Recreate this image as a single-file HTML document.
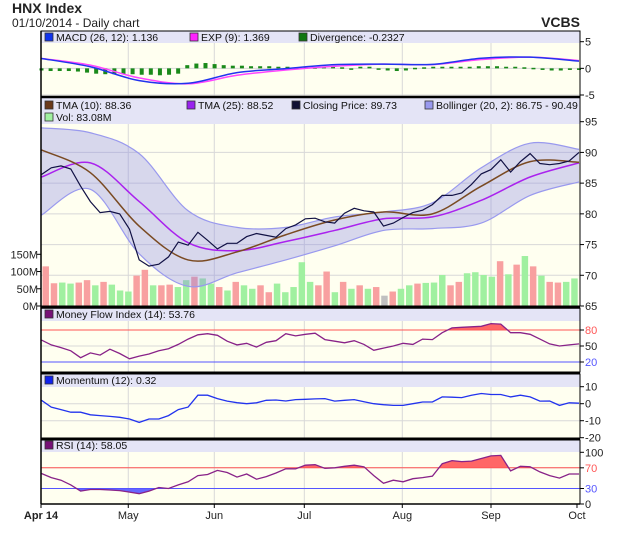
<!DOCTYPE html>
<html><head><meta charset="utf-8">
<style>
body{margin:0;background:#fff;width:620px;height:535px;overflow:hidden;font-family:"Liberation Sans",sans-serif;}
svg{display:block}
</style></head>
<body>
<svg id="c" width="620" height="535" xmlns="http://www.w3.org/2000/svg" font-family="Liberation Sans, sans-serif">
<text x="12" y="13" font-size="14" font-weight="bold" fill="#222">HNX Index</text>
<text x="12" y="27" font-size="12" fill="#222">01/10/2014 - Daily chart</text>
<text x="580" y="27" font-size="14" font-weight="bold" fill="#222" text-anchor="end">VCBS</text>
</svg>
<script>
// ---- data ----
const months = ["Apr 14","May","Jun","Jul","Aug","Sep","Oct"];
const monthPos = [0, 0.1619, 0.3215, 0.4885, 0.6703, 0.8349, 0.9944];
const closePrice = [86.4,87.5,87.8,87.3,84.5,82,80.2,80.4,80,77.5,72.5,71.5,71.8,73,75.4,74.9,77,75.7,74.3,75.2,75.2,76.3,76.8,76.5,76.2,77.6,78.2,79.2,79.3,78.7,78.5,80.1,80.9,80.5,80.3,78,78.5,79.4,80.2,80.6,81.5,83,83,83.4,84.8,86.5,87.2,88.8,86.8,88.5,89.8,88.2,88,88.2,88.6,90];
const tma10 = [90.4,86.7,78,72.5,73.8,76.6,79,80.3,80,84.5,88.5,88.4];
const tma25 = [86,88.3,82,75.3,74,75.5,77.3,79.2,79.5,82.2,86,88.3];
const bollUpper = [94,93.2,89.8,80.5,77.8,77.8,79.5,80.3,81.8,87.5,91.5,90.5];
const bollLower = [79.8,84,73.5,68.2,70.4,72.5,74.8,77.3,77.6,78.5,83,85.2];
const volume = [115,66,68,65,68,75,60,70,62,45,42,88,105,60,60,62,55,75,85,80,65,55,45,70,60,50,60,40,65,40,55,127,70,60,100,40,70,50,60,50,55,30,42,50,60,65,67,68,90,60,70,95,98,90,85,130,92,120,145,115,88,70,68,70,80];
const volumeDir = ["d","d","u","u","d","d","u","d","u","u","u","d","d","u","d","d","u","u","d","u","u","d","u","d","u","u","d","d","u","u","u","u","u","d","d","u","d","u","d","u","d","n","d","u","u","d","u","u","u","d","d","u","u","u","u","d","u","d","u","d","u","d","d","u","u"];
const macd = [1.85,0.3,-2.3,-2.8,-0.8,-0.05,0.7,0.8,0.75,1.9,2.1,1.35];
const macdSignal = [1.85,0.6,-1.8,-2.9,-1.3,-0.3,0.4,0.8,0.7,1.65,2.1,1.45];
const divergence = [-0.4,-0.5,-0.5,-0.5,-0.6,-0.8,-1.0,-1.1,-1.1,-1.1,-1.1,-1.2,-1.2,-1.3,-1.2,-1.0,0.6,0.9,1.0,0.8,0.6,0.5,0.5,0.4,0.4,0.4,0.3,0.3,0.2,0.2,0.2,0.3,0.3,0.2,0.0,0.3,0.3,0.0,-0.4,-0.5,-0.4,0.1,0.2,0.3,0.3,0.3,0.3,0.3,0.4,0.4,0.4,0.3,0.3,0.2,0.1,-0.3,-0.4,-0.4,-0.3,-0.3];
const mfi = [61,52,47,41,28,37,33,44,36,26,31,35,41,45,53,63,71,73,70,59,52,55,48,57,60,73,69,72,74,62,59,56,60,53,42,46,50,55,53,63,62,75,84,85,86,87,92,91,75,75,72,63,54,50,52,54];
const momentum = [2,-2,-3.5,-5,-5,-6.5,-7,-7.5,-8,-9,-11,-9,-9,-7,-3.5,-2,5,5,3,1.5,0.6,0,0.5,2,2.2,1.6,2.4,2.6,2.8,3,1.5,2,2.4,1.2,0,-0.6,-1,-1,0,1,1,4,3.8,3.6,5,6,5.4,5.4,4,5,4,1.5,1.6,-1,0.5,0.32];
const rsi = [59,51,46,37,25,28,28,27,26,23,20,25,32,30,37,43,55,57,65,61,52,58,48,53,60,68,68,75,76,69,70,73,75,72,55,40,46,43,49,51,54,78,84,82,83,88,93,94,64,73,72,62,55,50,58,58];
const priceTicks = [95,90,85,80,75,70,65];
const volTicks = [150,100,50,0];
const macdTicks = [5,0,-5];
const mfiTicks = [80,50,20];
const momTicks = [10,0,-10,-20];
const rsiTicks = [100,70,30,0];

// ---- layout ----
const NS="http://www.w3.org/2000/svg";
const svg=document.getElementById('c');
const L=41,R=580;
function el(tag,attrs,parent){const e=document.createElementNS(NS,tag);for(const k in attrs)e.setAttribute(k,attrs[k]);(parent||svg).appendChild(e);return e;}
function xIdx(i,n){return 41.5+(579-41.5)*i/(n-1);}
function lin(v0,y0,v1,y1){return v=>y0+(v-v0)*(y1-y0)/(v1-v0);}
const yPrice=lin(95,121.7,65,306);
const yVol=lin(0,306,150,254.3);
const yMacd=lin(5,41.7,-5,95);
const yMfi=lin(80,330,20,362);
const yMom=lin(10,386.7,-20,437.7);
const yRsi=lin(100,452.3,0,504);
function smooth(pts){let d="M"+pts[0][0]+","+pts[0][1];for(let i=0;i<pts.length-1;i++){const p0=pts[i-1]||pts[i],p1=pts[i],p2=pts[i+1],p3=pts[i+2]||p2;d+=" C"+(p1[0]+(p2[0]-p0[0])/6)+","+(p1[1]+(p2[1]-p0[1])/6)+" "+(p2[0]-(p3[0]-p1[0])/6)+","+(p2[1]-(p3[1]-p1[1])/6)+" "+p2[0]+","+p2[1];}return d;}
function pts(arr,ys){return arr.map((v,i)=>[xIdx(i,arr.length),ys(v)]);}
function poly(p){return "M"+p.map(q=>q[0].toFixed(1)+","+q[1].toFixed(1)).join(" L");}

function panel(name,top,legendH,bottom,ticks,ys,tickColors){
  const g=el('g',{});
  
  
  el('rect',{x:L,y:top,width:R-L,height:bottom-top,fill:'#fffff0'},g);
  el('rect',{x:L,y:top,width:R-L,height:legendH,fill:'#e4e4f6'},g);
  monthPos.forEach(p=>{const x=L+p*(R-L);if(p>0&&p<0.99)el('line',{x1:x,x2:x,y1:top+legendH,y2:bottom,stroke:'#d8d8d8','stroke-width':1},g);});
  ticks.forEach((t,k)=>{const y=ys(t);if(y>top+legendH+1&&y<bottom-1)el('line',{x1:L,x2:R,y1:y,y2:y,stroke:'#d8d8d8'},g);
    el('line',{x1:R,x2:R+4,y1:y,y2:y,stroke:'#000'},g);
    const tx=el('text',{x:R+5,y:y+4,'font-size':11,fill:(tickColors&&tickColors[k])||'#222'},g);tx.textContent=t;
    
    });
  return g;
}
function frame(top,bottom){el('rect',{x:L,y:top,width:R-L,height:bottom-top,fill:'none',stroke:'#000','stroke-width':1});}
function legend(items,y){items.forEach(it=>{
  const g=el('g',{});
  
  
  el('rect',{x:it[0],y:y-8,width:8,height:8,fill:it[1],stroke:'#333','stroke-width':0.8},g);
  const t=el('text',{x:it[0]+11,y:y,'font-size':10.5,fill:'#111'},g);t.textContent=it[2];});}

// MACD panel
panel('macd-panel',31,12,97,macdTicks,yMacd);
divergence.forEach((v,i)=>{const x=xIdx(i,divergence.length);const y0=yMacd(0),y1=yMacd(v);
  const b=el('rect',{x:x-2,y:Math.min(y0,y1),width:4,height:Math.max(1.5,Math.abs(y1-y0)),fill:'#1a8a1a'});
  
  });
let p=el('path',{d:smooth(pts(macdSignal,yMacd)),fill:'none',stroke:'#ff44ff','stroke-width':1.5});

p=el('path',{d:smooth(pts(macd,yMacd)),fill:'none',stroke:'#2233ee','stroke-width':1.5});

frame(31,97);
legend([[45,'#1133ee','MACD (26, 12): 1.136'],[190,'#ff22ff','EXP (9): 1.369'],[299,'#117711','Divergence: -0.2327']],41);

// Main panel
panel('price-panel',97,27,306,priceTicks,yPrice);
volTicks.forEach(t=>{const y=yVol(t);el('line',{x1:L-4,x2:L,y1:y,y2:y,stroke:'#000'});
  const tx=el('text',{x:L-3,y:y+4,'font-size':11,'text-anchor':'end',fill:'#222'});tx.textContent=t+'M';
  
  });
volume.forEach((v,i)=>{const x=L+1+(R-L-2)*i/volume.length;const w=(R-L-2)/volume.length;
  const c=volumeDir[i]==='u'?'#a0f0a0':volumeDir[i]==='d'?'#f8a0a0':'#c0c0c0';
  const b=el('rect',{x:x+0.5,y:yVol(v),width:w-1.8,height:306-yVol(v),fill:c});
  
  });
const up=pts(bollUpper,yPrice),lo=pts(bollLower,yPrice);
p=el('path',{d:smooth(up)+" L"+smooth(lo.slice().reverse()).slice(1)+" Z",fill:'rgba(140,140,230,0.35)',stroke:'none'});

el('path',{d:smooth(up),fill:'none',stroke:'#9999ee','stroke-width':1.2});
el('path',{d:smooth(lo),fill:'none',stroke:'#9999ee','stroke-width':1.2});
p=el('path',{d:smooth(pts(tma25,yPrice)),fill:'none',stroke:'#aa22ee','stroke-width':1.5});

p=el('path',{d:smooth(pts(tma10,yPrice)),fill:'none',stroke:'#7a4a22','stroke-width':1.5});

p=el('path',{d:poly(pts(closePrice,yPrice)),fill:'none',stroke:'#111144','stroke-width':1.2});

frame(97,306);
legend([[45,'#6b3a1a','TMA (10): 88.36'],[187,'#9922ee','TMA (25): 88.52'],[292,'#111133','Closing Price: 89.73'],[425,'#9999ee','Bollinger (20, 2): 86.75 - 90.49']],109);
legend([[45,'#a0f0a0','Vol: 83.08M']],121);

function osc(name,arr,ys,top,bottom,hi,lo,stroke){
  const pp=pts(arr,ys);
  if(hi!==null){const cid=name+'-hi';const cp=el('clipPath',{id:cid});el('rect',{x:L,y:top,width:R-L,height:ys(hi)-top},cp);
    el('path',{d:poly(pp)+" L"+pp[pp.length-1][0]+","+ys(hi)+" L"+pp[0][0]+","+ys(hi)+" Z",fill:'#ff6666','clip-path':'url(#'+cid+')'});}
  if(lo!==null){const cid=name+'-lo';const cp=el('clipPath',{id:cid});el('rect',{x:L,y:ys(lo),width:R-L,height:bottom-ys(lo)},cp);
    el('path',{d:poly(pp)+" L"+pp[pp.length-1][0]+","+ys(lo)+" L"+pp[0][0]+","+ys(lo)+" Z",fill:'#6666ff','clip-path':'url(#'+cid+')'});}
  if(hi!==null)el('line',{x1:L,x2:R,y1:ys(hi),y2:ys(hi),stroke:'#ff5555'});
  if(lo!==null)el('line',{x1:L,x2:R,y1:ys(lo),y2:ys(lo),stroke:'#5555ff'});
  const l=el('path',{d:poly(pp),fill:'none',stroke:stroke,'stroke-width':1.3});
  
  
}
// MFI
panel('mfi-panel',308,13,372,mfiTicks,yMfi,['#ff5555','#222','#5555ff']);
osc('mfi',mfi,yMfi,308,372,80,20,'#882288');
frame(308,372);
legend([[45,'#771177','Money Flow Index (14): 53.76']],318);
// Momentum
panel('momentum-panel',374,13,438,momTicks,yMom);
osc('momentum',momentum,yMom,374,438,null,null,'#2233ee');
frame(374,438);
legend([[45,'#1122ee','Momentum (12): 0.32']],384);
// RSI
panel('rsi-panel',440,12,504,rsiTicks,yRsi,['#222','#ff5555','#5555ff','#222']);
osc('rsi',rsi,yRsi,440,504,70,30,'#882288');
frame(440,504);
legend([[45,'#771177','RSI (14): 58.05']],449);
// separators
[97,307.5,373,439].forEach(y=>el('line',{x1:L,x2:R,y1:y,y2:y,stroke:'#000','stroke-width':2.5}));
el('line',{x1:L,x2:L,y1:31,y2:504,stroke:'#000','stroke-width':1.5});
// x axis
el('line',{x1:L,x2:R,y1:504,y2:504,stroke:'#000','stroke-width':1.5});
months.forEach((m,i)=>{const x=L+monthPos[i]*(R-L);el('line',{x1:x,x2:x,y1:504,y2:508,stroke:'#000'});
  const t=el('text',{x:x,y:519,'font-size':11,'text-anchor':'middle',fill:'#222','font-weight':i===0?'bold':'normal'});t.textContent=m;
  
  });
</script>
</body></html>
